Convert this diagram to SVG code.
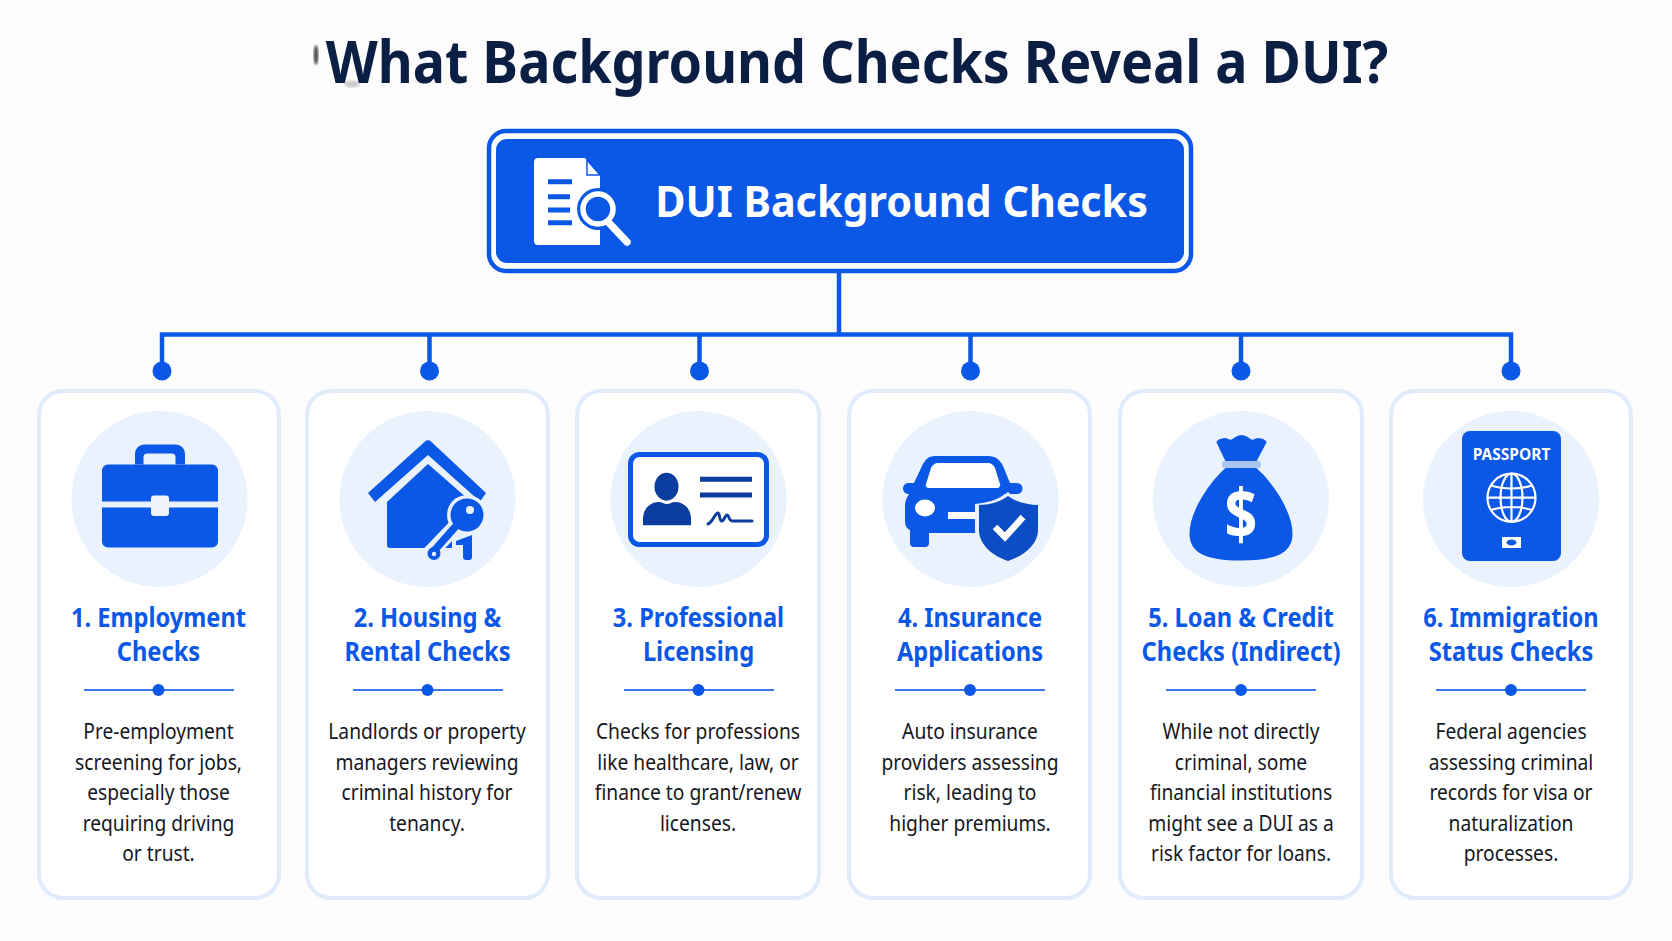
<svg xmlns="http://www.w3.org/2000/svg" width="1672" height="941" viewBox="0 0 1672 941">
<style>
text{font-family:"Noto Sans","Liberation Sans",sans-serif;text-anchor:middle}
.title{font-size:60px;font-weight:700;fill:#0b1f44}
.head{font-size:43px;font-weight:700;fill:#fff}
.t{font-size:26px;font-weight:700;fill:#0b57e6}
.b{font-size:21px;fill:#16181f}
.card{fill:#fff;stroke:#e0ebfb;stroke-width:4}
.halo{fill:#eaf2fd}
.ic{fill:#0b57e6}
.div{stroke:#3d78e6;stroke-width:2}
.dot{fill:#0b57e6}
.conn{fill:none;stroke:#0b57e6;stroke-width:4.5}
</style>
<defs><filter id="soft"><feGaussianBlur stdDeviation="1.2"/></filter></defs>
<rect width="1672" height="941" fill="#fdfdfe"/>
<ellipse cx="316" cy="55" rx="2.500" ry="10" fill="#555" filter="url(#soft)"/>
<ellipse cx="352" cy="84" rx="8" ry="3.500" fill="#ccc" filter="url(#soft)"/>
<text id="title" class="title" transform="translate(857 83) scale(.897 1)">What Background Checks Reveal a DUI?</text>
<g id="connectors">
<path class="conn" d="M839 272V334.500M162 371V334.500H1511V371M429.500 334.500V371M699.500 334.500V371M970.500 334.500V371M1241 334.500V371"/>
<circle class="dot" cx="162" cy="371" r="9.500"/><circle class="dot" cx="429.500" cy="371" r="9.500"/><circle class="dot" cx="699.500" cy="371" r="9.500"/><circle class="dot" cx="970.500" cy="371" r="9.500"/><circle class="dot" cx="1241" cy="371" r="9.500"/><circle class="dot" cx="1511" cy="371" r="9.500"/>
</g>
<g id="root">
<rect x="489" y="131" width="702" height="140" rx="17" fill="#fff" stroke="#0b57e6" stroke-width="4.500"/>
<rect x="496" y="139" width="688" height="124" rx="11" fill="#0b57e6"/>
<path d="M538 158H585L600 175V245H538a4 4 0 0 1-4-4V162a4 4 0 0 1 4-4Z" fill="#fff"/>
<path d="M587 160L600 175H587Z" fill="#fff" stroke="#0b57e6" stroke-width="1.500"/>
<path d="M548 181.700h24M548 196.700h22M548 210h22M548 222.700h24" stroke="#0b57e6" stroke-width="5" fill="none"/>
<circle cx="598" cy="209" r="21" fill="#0b57e6"/>
<circle cx="598" cy="209" r="15" fill="#0b57e6" stroke="#fff" stroke-width="5.500"/>
<path d="M610 224L627 242" stroke="#fff" stroke-width="7.500" stroke-linecap="round"/>
<text class="head" transform="translate(901.600 217) scale(.96 1)">DUI Background Checks</text>
</g>
<g id="card1">
<rect class="card" x="39" y="391" width="240" height="507" rx="24"/>
<circle class="halo" cx="159.500" cy="499" r="88"/>
<path class="ic" fill-rule="evenodd" d="M135 464.500v-11a9 9 0 0 1 9-9h32a9 9 0 0 1 9 9v11zM143.500 464.500v-7a4 4 0 0 1 4-4h24a4 4 0 0 1 4 4v7z"/>
<path class="ic" d="M108 464.500H212a6 6 0 0 1 6 6v31H102v-31a6 6 0 0 1 6-6ZM102 507.500H218v34a6 6 0 0 1-6 6H108a6 6 0 0 1-6-6Z"/>
<rect x="151" y="495.500" width="18" height="20.500" rx="3" fill="#f0f4fc"/>
<g transform="translate(158.500 0) scale(.91 1)"><text class="t" y="627">1. Employment</text><text class="t" y="661">Checks</text></g>
<path class="div" d="M84 690H234"/><circle class="dot" cx="158.500" cy="690" r="6"/>
<g transform="translate(158.500 0) scale(.915 1)"><text class="b" y="739">Pre-employment</text><text class="b" y="770">screening for jobs,</text><text class="b" y="800.500">especially those</text><text class="b" y="831">requiring driving</text><text class="b" y="861">or trust.</text></g>
</g>
<g id="card2">
<rect class="card" x="307" y="391" width="241" height="507" rx="24"/>
<circle class="halo" cx="427.500" cy="499" r="88"/>
<path class="ic" d="M425 441.500a4 4 0 0 1 6 0L486 493l-6 8.500L428 455L375 502L368 493Z"/>
<path class="ic" d="M428 464L468 499V548H390a3 3 0 0 1-3-3V502Z"/>
<circle cx="467" cy="515" r="20" fill="#eaf2fd"/>
<path d="M455 527L430 553" stroke="#eaf2fd" stroke-width="15" stroke-linecap="round"/>
<rect x="452" y="530" width="26" height="32" fill="#eaf2fd"/>
<circle class="ic" cx="467" cy="515" r="16.500"/>
<path d="M456 526L433 552" stroke="#0b57e6" stroke-width="7.500" stroke-linecap="round"/>
<circle class="ic" cx="434" cy="553.500" r="6.500"/>
<path class="ic" d="M456 541L472 535V557a3 3 0 0 1-3 3H466a3 3 0 0 1-3-3V545H456Z"/>
<circle cx="470" cy="510" r="4" fill="#eaf2fd"/><circle cx="434" cy="554" r="2.200" fill="#eaf2fd"/>
<g transform="translate(427.500 0) scale(.91 1)"><text class="t" y="627">2. Housing &amp;</text><text class="t" y="661">Rental Checks</text></g>
<path class="div" d="M353 690H503"/><circle class="dot" cx="427.500" cy="690" r="6"/>
<g transform="translate(427 0) scale(.915 1)"><text class="b" y="739">Landlords or property</text><text class="b" y="770">managers reviewing</text><text class="b" y="800.500">criminal history for</text><text class="b" y="831">tenancy.</text></g>
</g>
<g id="card3">
<rect class="card" x="577" y="391" width="242" height="507" rx="24"/>
<circle class="halo" cx="698.500" cy="499" r="88"/>
<rect x="630.500" y="454.500" width="136" height="90" rx="9" fill="#fff" stroke="#0b57e6" stroke-width="5"/>
<ellipse cx="666.500" cy="486.700" rx="12" ry="14" fill="#0a3d9e"/>
<path d="M643 525.300V517a16 16 0 0 1 16-15c3 0 5 2 8 2s5-2 8-2a16 16 0 0 1 16 15V525.300Z" fill="#0a3d9e"/>
<path d="M700 479.300h52M700 495h52" stroke="#0a3d9e" stroke-width="5"/>
<path d="M708 524c5-2 7-11 10-11c2 0 1 8 4 8c2 0 3-6 5-6c2 0 2 6 5 6h20" fill="none" stroke="#0a3d9e" stroke-width="3" stroke-linecap="round"/>
<g transform="translate(698.500 0) scale(.91 1)"><text class="t" y="627">3. Professional</text><text class="t" y="661">Licensing</text></g>
<path class="div" d="M624 690H774"/><circle class="dot" cx="698.500" cy="690" r="6"/>
<g transform="translate(698 0) scale(.915 1)"><text class="b" y="739">Checks for professions</text><text class="b" y="770">like healthcare, law, or</text><text class="b" y="800.500">finance to grant/renew</text><text class="b" y="831">licenses.</text></g>
</g>
<g id="card4">
<rect class="card" x="849" y="391" width="241" height="507" rx="24"/>
<circle class="halo" cx="970.500" cy="499" r="88"/>
<path class="ic" d="M935 456H988c8 0 12 4 15 10L1010 483H1017a5 5 0 0 1 0 11H1005L977 515V533H929V543a4 4 0 0 1-4 4H914a4 4 0 0 1-4-4V530c-4-2-5-5-5-10V505c0-4 2-8 4-11a5 5 0 0 1-1-11H914L922 466c3-6 6-10 13-10Z"/>
<path d="M938 463H988c3 0 6 2 7 5L1000 484c1 2-1 4-3 4H929c-2 0-4-2-3-4L931 468c1-3 4-5 7-5Z" fill="#fff"/>
<ellipse cx="925" cy="508" rx="10" ry="8.500" fill="#fff"/>
<rect x="948" y="512" width="30" height="7" fill="#fff"/>
<path d="M1008 492C1017 500 1030 503 1041 504V530C1041 547 1025 558 1008 564C991 558 975 547 975 530V504C986 503 999 500 1008 492Z" fill="#eaf2fd"/>
<path d="M1008 496C1016 502 1028 505 1038 505V530C1038 545 1023 556 1008 561C993 556 979 545 979 530V505C989 505 1000 502 1008 496Z" fill="#0b4dc4"/>
<path d="M995 527L1005 537L1023 517" fill="none" stroke="#fff" stroke-width="6.500"/>
<g transform="translate(970 0) scale(.91 1)"><text class="t" y="627">4. Insurance</text><text class="t" y="661">Applications</text></g>
<path class="div" d="M895 690H1045"/><circle class="dot" cx="970" cy="690" r="6"/>
<g transform="translate(970 0) scale(.915 1)"><text class="b" y="739">Auto insurance</text><text class="b" y="770">providers assessing</text><text class="b" y="800.500">risk, leading to</text><text class="b" y="831">higher premiums.</text></g>
</g>
<g id="card5">
<rect class="card" x="1120" y="391" width="242" height="507" rx="24"/>
<circle class="halo" cx="1241" cy="499" r="88"/>
<path class="ic" stroke="#0b57e6" stroke-width="3" stroke-linejoin="round" d="M1218 442c3-3 8-3 11-1c3 1 5-1 6-2c4-3 9-3 13 0c1 1 3 3 6 2c3-2 8-2 11 1l-10 19c-1 2-2 4-2 6c18 15 38 45 38 67c0 17-14 25-50 25s-50-8-50-25c0-22 20-52 38-67c0-2-1-4-2-6Z"/>
<rect x="1222" y="461" width="39" height="7" rx="3" fill="#a9c5f4"/>
<text transform="translate(1241 539) scale(.82 1)" font-size="70" font-weight="700" fill="#fff">$</text>
<g transform="translate(1241 0) scale(.91 1)"><text class="t" y="627">5. Loan &amp; Credit</text><text class="t" y="661">Checks (Indirect)</text></g>
<path class="div" d="M1166 690H1316"/><circle class="dot" cx="1241" cy="690" r="6"/>
<g transform="translate(1241 0) scale(.915 1)"><text class="b" y="739">While not directly</text><text class="b" y="770">criminal, some</text><text class="b" y="800.500">financial institutions</text><text class="b" y="831">might see a DUI as a</text><text class="b" y="861">risk factor for loans.</text></g>
</g>
<g id="card6">
<rect class="card" x="1391" y="391" width="240" height="507" rx="24"/>
<circle class="halo" cx="1511" cy="499" r="88"/>
<rect class="ic" x="1462" y="431" width="99" height="130" rx="8"/>
<text x="1511.500" y="459.500" font-size="15.500" font-weight="700" fill="#fff">PASSPORT</text>
<g fill="none" stroke="#fff" stroke-width="2.200"><circle cx="1511.500" cy="497.700" r="24"/><ellipse cx="1511.500" cy="497.700" rx="11" ry="24"/><path d="M1511.500 473.700v48M1487.500 497.700h48M1491 485.500c12 4 29 4 41 0M1491 510c12-4 29-4 41 0"/></g>
<rect x="1502" y="537" width="19" height="11" fill="#fff"/><ellipse cx="1511.500" cy="542.500" rx="5" ry="3" fill="#0b57e6"/>
<g transform="translate(1511 0) scale(.91 1)"><text class="t" y="627">6. Immigration</text><text class="t" y="661">Status Checks</text></g>
<path class="div" d="M1436 690H1586"/><circle class="dot" cx="1511" cy="690" r="6"/>
<g transform="translate(1511 0) scale(.915 1)"><text class="b" y="739">Federal agencies</text><text class="b" y="770">assessing criminal</text><text class="b" y="800.500">records for visa or</text><text class="b" y="831">naturalization</text><text class="b" y="861">processes.</text></g>
</g>
</svg>
